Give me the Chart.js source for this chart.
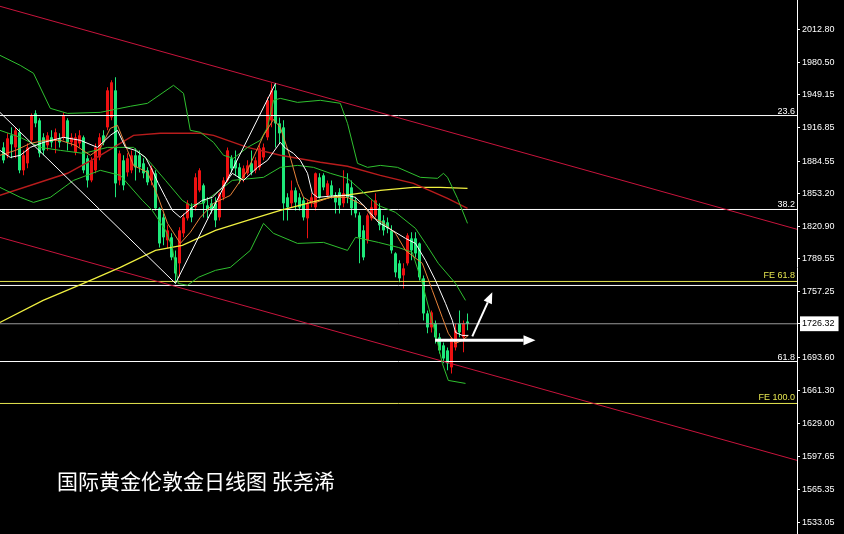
<!DOCTYPE html>
<html>
<head>
<meta charset="utf-8">
<script src="https://cdn.jsdelivr.net/npm/chart.js@4.4.0/dist/chart.umd.min.js"></script>
<style>
  html, body { margin: 0; padding: 0; background: #000; }
  #wrap { position: relative; width: 844px; height: 534px; }
  #caption {
    position: absolute; left: 57px; top: 470px;
    color: #fff; font-size: 21px; line-height: 21px;
    font-family: "Noto Sans CJK SC", sans-serif; white-space: nowrap;
  }
</style>
</head>
<body>
<div id="wrap">
  <canvas id="chart" width="844" height="534"></canvas>
  <div id="caption">国际黄金伦敦金日线图 张尧浠</div>
</div>
<script>
// ---------------- DATOS ----------------
const priceTicks = [2012.80, 1980.50, 1949.15, 1916.85, 1884.55, 1853.20, 1820.90, 1789.55,
  1757.25, 1726.32, 1693.60, 1661.30, 1629.00, 1597.65, 1565.35, 1533.05];
const lastPrice = 1726.32;

// velas diarias: [open, high, low, close]
const candles = [
  [1897.9, 1902.8, 1882.4, 1885.3], [1890.2, 1911.6, 1887.3, 1906.7], [1909.6, 1917.4, 1887.3, 1900.9],
  [1897.9, 1917.4, 1887.3, 1914.5], [1912.6, 1916.4, 1872.7, 1875.6], [1875.6, 1895.0, 1870.7, 1890.2],
  [1882.4, 1901.8, 1877.5, 1897.9], [1904.8, 1931.0, 1901.8, 1929.1], [1931.0, 1934.0, 1917.4, 1921.3],
  [1924.2, 1926.2, 1888.2, 1892.1], [1907.7, 1911.6, 1890.2, 1895.0], [1899.9, 1912.6, 1895.0, 1909.6],
  [1907.7, 1914.5, 1897.9, 1902.8], [1904.8, 1916.4, 1892.1, 1912.6], [1906.7, 1911.6, 1897.9, 1902.8],
  [1907.7, 1932.0, 1904.8, 1929.1], [1924.2, 1926.2, 1895.0, 1902.8], [1902.8, 1911.6, 1898.9, 1907.7],
  [1893.1, 1911.6, 1890.2, 1907.7], [1901.8, 1914.5, 1897.9, 1909.6], [1907.7, 1909.6, 1872.7, 1875.6],
  [1887.3, 1890.2, 1859.0, 1865.8], [1865.8, 1888.2, 1863.9, 1885.3], [1875.6, 1901.8, 1872.7, 1897.9],
  [1888.2, 1911.6, 1885.3, 1907.7], [1909.6, 1914.5, 1899.9, 1902.8], [1917.4, 1956.3, 1914.5, 1953.4],
  [1927.1, 1963.2, 1924.2, 1961.2], [1953.4, 1966.1, 1849.3, 1862.9], [1865.8, 1895.0, 1861.0, 1892.1],
  [1885.3, 1890.2, 1856.1, 1861.0], [1873.6, 1892.1, 1869.7, 1887.3], [1875.6, 1895.0, 1872.7, 1890.2],
  [1890.2, 1897.0, 1865.8, 1878.5], [1890.2, 1895.0, 1873.6, 1878.5], [1882.4, 1887.3, 1867.8, 1872.7],
  [1875.6, 1878.5, 1861.0, 1863.9], [1865.8, 1880.4, 1861.0, 1877.5], [1872.7, 1875.6, 1836.6, 1838.6],
  [1838.6, 1839.6, 1800.6, 1804.5], [1829.8, 1833.7, 1802.6, 1810.4], [1807.5, 1822.1, 1799.7, 1817.2],
  [1810.4, 1814.3, 1788.0, 1790.9], [1790.9, 1797.7, 1765.6, 1775.3], [1785.1, 1820.1, 1771.5, 1817.2],
  [1814.3, 1833.7, 1810.4, 1829.8], [1828.9, 1846.4, 1826.9, 1843.5], [1839.6, 1843.5, 1825.0, 1829.8],
  [1839.6, 1872.7, 1836.6, 1868.8], [1856.1, 1877.5, 1854.2, 1875.6], [1861.0, 1862.9, 1829.8, 1843.5],
  [1841.5, 1849.3, 1828.9, 1836.6], [1843.5, 1848.3, 1833.7, 1836.6], [1843.5, 1849.3, 1820.1, 1826.9],
  [1829.8, 1854.2, 1826.9, 1853.2], [1849.3, 1868.8, 1846.4, 1865.8], [1865.8, 1897.9, 1863.9, 1895.0],
  [1887.3, 1890.2, 1873.6, 1877.5], [1885.3, 1895.0, 1870.7, 1877.5], [1878.5, 1882.4, 1862.9, 1867.8],
  [1867.8, 1880.4, 1863.9, 1877.5], [1872.7, 1885.3, 1870.7, 1880.4], [1882.4, 1895.0, 1870.7, 1873.6],
  [1875.6, 1888.2, 1872.7, 1885.3], [1878.5, 1899.9, 1875.6, 1897.0], [1888.2, 1901.8, 1885.3, 1897.9],
  [1907.7, 1946.6, 1904.8, 1943.7], [1924.2, 1960.2, 1917.4, 1953.4], [1953.4, 1960.2, 1897.9, 1921.3],
  [1921.3, 1927.1, 1901.8, 1911.6], [1917.4, 1924.2, 1826.9, 1843.5], [1849.3, 1853.2, 1826.9, 1839.6],
  [1843.5, 1865.8, 1839.6, 1856.1], [1856.1, 1859.0, 1836.6, 1844.4], [1849.3, 1853.2, 1836.6, 1839.6],
  [1846.4, 1849.3, 1826.9, 1829.8], [1828.9, 1846.4, 1809.4, 1843.5], [1843.5, 1853.2, 1839.6, 1849.3],
  [1839.6, 1873.6, 1836.6, 1872.7], [1868.8, 1872.7, 1848.3, 1849.3], [1870.7, 1872.7, 1856.1, 1859.0],
  [1851.2, 1865.8, 1849.3, 1862.9], [1861.0, 1865.8, 1848.3, 1851.2], [1851.2, 1854.2, 1833.7, 1844.4],
  [1854.2, 1858.1, 1833.7, 1841.5], [1843.5, 1875.6, 1839.6, 1853.2], [1862.9, 1872.7, 1843.5, 1849.3],
  [1859.0, 1865.8, 1831.8, 1838.6], [1846.4, 1849.3, 1829.8, 1833.7], [1831.8, 1834.7, 1785.1, 1810.4],
  [1817.2, 1822.1, 1788.0, 1790.9], [1807.5, 1833.7, 1804.5, 1831.8], [1828.9, 1846.4, 1826.9, 1839.6],
  [1831.8, 1853.2, 1829.8, 1846.4], [1838.6, 1843.5, 1817.2, 1822.1], [1826.9, 1831.8, 1812.3, 1817.2],
  [1825.0, 1829.8, 1814.3, 1819.1], [1817.2, 1822.1, 1794.8, 1797.7], [1794.8, 1795.8, 1771.5, 1776.3],
  [1785.1, 1788.0, 1766.6, 1770.5], [1773.4, 1785.1, 1760.7, 1780.2], [1785.1, 1814.3, 1783.1, 1812.3],
  [1809.4, 1815.3, 1788.0, 1797.7], [1809.4, 1815.3, 1790.9, 1794.8], [1804.5, 1805.5, 1768.5, 1771.5],
  [1770.5, 1773.4, 1729.6, 1736.4], [1736.4, 1739.3, 1717.0, 1722.8], [1722.8, 1739.3, 1717.9, 1737.4],
  [1726.7, 1729.6, 1707.2, 1713.1], [1713.1, 1717.0, 1697.5, 1700.4], [1705.3, 1708.2, 1687.8, 1692.6],
  [1700.4, 1703.3, 1681.0, 1687.8], [1683.9, 1713.1, 1678.0, 1712.1], [1703.3, 1726.7, 1700.4, 1719.9],
  [1726.7, 1739.3, 1713.1, 1717.9], [1713.1, 1729.6, 1698.5, 1726.7], [1728.5, 1736.4, 1719.9, 1726.3]
];

// bandas de Bollinger y medias: [indice de vela, precio]
const bandUpper = [[-0.9, 1987.5], [4.2, 1977.7], [7.5, 1970.0], [11.7, 1935.9], [16.0, 1931.0], [24.2, 1932.0],
  [31.7, 1937.9], [36.0, 1940.8], [42.5, 1958.3], [45.0, 1950.5], [46.7, 1914.5], [49.2, 1912.6],
  [52.5, 1902.8], [55.0, 1890.2], [57.5, 1887.3], [61.0, 1897.9], [64.2, 1904.8], [66.0, 1917.4],
  [67.5, 1943.7], [69.2, 1945.6], [73.5, 1941.7], [79.2, 1943.7], [84.2, 1940.8], [86.0, 1921.3],
  [88.5, 1882.4], [91.0, 1878.5], [94.2, 1880.4], [98.5, 1878.5], [104.2, 1868.8], [108.5, 1867.8],
  [110.0, 1872.7], [111.0, 1868.8], [113.5, 1848.3], [116.0, 1824.0]];
const bandMid = [[-0.9, 1914.5], [4.2, 1907.7], [9.2, 1897.9], [14.2, 1895.0], [20.0, 1892.1], [26.0, 1897.9],
  [32.5, 1897.9], [36.2, 1885.3], [40.5, 1865.8], [44.7, 1846.4], [46.7, 1841.5], [49.7, 1843.5],
  [53.0, 1853.2], [57.2, 1865.8], [65.0, 1868.8], [69.2, 1878.5], [73.5, 1880.4], [77.5, 1878.5],
  [81.7, 1872.7], [86.0, 1867.8], [93.7, 1841.5], [98.0, 1834.7], [103.0, 1819.1], [105.5, 1804.5],
  [108.7, 1785.1], [113.0, 1765.6], [115.5, 1749.1]];
const bandLower = [[-0.9, 1859.0], [4.2, 1849.3], [7.5, 1844.4], [11.7, 1849.3], [17.5, 1865.8], [24.2, 1875.6],
  [29.2, 1870.7], [34.7, 1846.4], [37.2, 1836.6], [40.5, 1817.2], [42.2, 1800.6], [43.7, 1765.6],
  [46.0, 1763.7], [48.7, 1771.5], [53.0, 1778.3], [56.7, 1781.2], [61.7, 1797.7], [65.0, 1824.0],
  [67.5, 1814.3], [73.5, 1804.5], [80.0, 1805.5], [86.0, 1797.7], [88.0, 1810.4], [93.7, 1805.5],
  [98.7, 1800.6], [102.2, 1795.8], [104.7, 1765.6], [108.0, 1717.0], [109.7, 1687.8], [111.2, 1671.2],
  [115.5, 1668.3]];
const maRed = [[-0.9, 1851.2], [16.0, 1872.7], [24.2, 1890.2], [32.5, 1909.6], [39.2, 1911.6], [49.2, 1911.6],
  [52.5, 1909.6], [61.0, 1897.9], [69.2, 1890.2], [79.2, 1883.4], [86.0, 1879.5], [94.2, 1870.7],
  [102.5, 1862.9], [111.0, 1848.3], [116.0, 1838.6]];
const maYellow = [[-0.9, 1727.7], [9.9, 1749.1], [20.0, 1765.6], [29.2, 1781.2], [38.0, 1797.7], [44.7, 1802.6],
  [53.0, 1817.2], [61.0, 1826.9], [69.2, 1836.6], [81.7, 1849.3], [94.2, 1856.1], [102.5, 1859.0],
  [109.2, 1859.0], [116.0, 1858.1]];
const maWhite = [[-0.9, 1895.0], [1.7, 1888.2], [4.2, 1890.2], [6.7, 1897.9], [10.0, 1902.8], [15.0, 1907.7],
  [19.2, 1904.8], [23.5, 1897.9], [26.7, 1909.6], [28.5, 1914.5], [30.5, 1897.9], [33.0, 1895.0],
  [35.5, 1888.2], [37.2, 1875.6], [38.7, 1862.9], [40.5, 1849.3], [42.2, 1836.6], [44.2, 1829.8],
  [47.2, 1839.6], [49.7, 1846.4], [52.2, 1849.3], [54.7, 1859.0], [57.2, 1872.7], [60.0, 1865.8],
  [63.5, 1878.5], [66.0, 1885.3], [69.2, 1902.8], [70.5, 1897.0], [72.5, 1892.1], [74.2, 1885.3],
  [76.0, 1872.7], [77.2, 1853.2], [78.5, 1849.3], [83.5, 1851.2], [86.0, 1851.2], [88.0, 1849.3],
  [90.5, 1839.6], [93.7, 1825.0], [97.2, 1817.2], [100.5, 1809.4], [103.0, 1804.5], [105.5, 1788.0],
  [108.0, 1768.5], [110.5, 1746.2], [112.2, 1729.6], [113.0, 1717.9], [114.7, 1715.0], [116.2, 1715.0]];
const maOrange = [[-0.9, 1890.2], [3.0, 1895.0], [6.7, 1901.8], [10.5, 1904.8], [14.2, 1904.8], [18.0, 1899.9],
  [21.7, 1890.2], [24.2, 1897.0], [26.7, 1916.4], [28.5, 1919.4], [31.0, 1895.0], [32.5, 1880.4],
  [36.0, 1873.6], [38.5, 1851.2], [41.0, 1824.0], [44.2, 1804.5], [46.7, 1815.3], [49.2, 1829.8],
  [52.5, 1843.5], [56.7, 1851.2], [61.0, 1875.6], [65.0, 1909.6], [67.5, 1925.0], [69.2, 1917.4],
  [71.7, 1888.2], [73.5, 1862.9], [75.0, 1849.3], [77.5, 1843.5], [81.7, 1849.3], [86.0, 1849.3],
  [90.0, 1841.5], [92.2, 1829.8], [94.7, 1825.0], [98.0, 1814.3], [100.5, 1797.7], [104.7, 1785.1],
  [107.2, 1758.8], [109.7, 1732.5], [111.2, 1717.0], [113.0, 1707.2], [114.7, 1710.2], [116.2, 1715.0]];

// zigzag, canal y niveles
const zigzag = [[-0.9, 1932.0], [43, 1765.6], [68, 1960.2]];
const channelUpper = [[-0.9, 2035.2], [198.4, 1818.2]];
const channelLower = [[-0.9, 1810.4], [198.4, 1593.4]];
const fibValues = [1928.9, 1837.5, 1763.6, 1689.6];
const fibLabels = ["23.6", "38.2", "", "61.8"];
const feValues = [1767.5, 1648.8];
const feLabels = ["FE 61.8", "FE 100.0"];
const arrowFlat = [[107.9, 1710.2], [133.0, 1710.2]];
const arrowUp = [[117.2, 1714.0], [122.2, 1756.9]];

// ---------------- CONFIG ----------------
const X_MIN = -0.875;
const X_MAX = 198.375;
const Y_MIN = 1521.8;
const Y_MAX = 2041.3;

const UP = "#ee1111";
const DOWN = "#1ee87a";

function colorVela(c) {
    return c[3] >= c[0] ? UP : DOWN;
}

function lineaDs(puntos, color, ancho, orden) {
    return {
        type: "line",
        data: puntos.map((p) => ({ x: p[0], y: p[1] })),
        borderColor: color,
        borderWidth: ancho,
        pointRadius: 0,
        tension: 0,
        fill: false,
        order: orden,
    };
}

function nivelDs(valor, color, orden) {
    return lineaDs([[X_MIN, valor], [X_MAX, valor]], color, 1, orden);
}

const datasets = [
    // lineas encima de las velas
    lineaDs(zigzag, "#ffffff", 1, 1),
    lineaDs(maWhite, "#ffffff", 1, 2),
    lineaDs(maOrange, "#e8843a", 1, 2),
    lineaDs(bandUpper, "#2fc02f", 1, 3),
    lineaDs(bandMid, "#2fc02f", 1, 3),
    lineaDs(bandLower, "#2fc02f", 1, 3),
    lineaDs(maRed, "#b81c1c", 1.5, 3),
    lineaDs(maYellow, "#f0f040", 1.2, 3),
    lineaDs(channelUpper, "#c8143c", 1, 4),
    lineaDs(channelLower, "#c8143c", 1, 4),
    ...fibValues.map((v) => nivelDs(v, "#ffffff", 4)),
    ...feValues.map((v) => nivelDs(v, "#e6e650", 4)),
    nivelDs(lastPrice, "#9a9a9a", 4),
    // cuerpos y mechas
    {
        type: "bar",
        data: candles.map((c, i) => ({ x: i, y: [c[0], c[3]] })),
        backgroundColor: candles.map(colorVela),
        barThickness: 3,
        minBarLength: 1,
        grouped: false,
        inflateAmount: 0,
        borderWidth: 0,
        order: 9,
    },
    {
        type: "bar",
        data: candles.map((c, i) => ({ x: i, y: [c[2], c[1]] })),
        backgroundColor: candles.map(colorVela),
        barThickness: 1,
        grouped: false,
        inflateAmount: 0,
        borderWidth: 0,
        order: 10,
    },
];

function flecha(ctx, x0, y0, x1, y1, ancho, largo, medio) {
    const ang = Math.atan2(y1 - y0, x1 - x0);
    const bx = x1 - Math.cos(ang) * largo;
    const by = y1 - Math.sin(ang) * largo;
    ctx.lineWidth = ancho;
    ctx.beginPath();
    ctx.moveTo(x0, y0);
    ctx.lineTo(bx, by);
    ctx.stroke();
    ctx.beginPath();
    ctx.moveTo(x1, y1);
    ctx.lineTo(bx + Math.sin(ang) * medio, by - Math.cos(ang) * medio);
    ctx.lineTo(bx - Math.sin(ang) * medio, by + Math.cos(ang) * medio);
    ctx.closePath();
    ctx.fill();
}

const extrasPlugin = {
    id: "extras",
    afterDatasetsDraw(chart) {
        const { ctx, scales: { x, y } } = chart;
        ctx.save();
        ctx.font = '9px "Liberation Sans", Arial, sans-serif';
        ctx.textAlign = "right";
        ctx.textBaseline = "alphabetic";
        fibValues.forEach((v, k) => {
            if (!fibLabels[k]) return;
            ctx.fillStyle = "#ffffff";
            ctx.fillText(fibLabels[k], x.right - 2, Math.round(y.getPixelForValue(v)) - 2);
        });
        feValues.forEach((v, k) => {
            ctx.fillStyle = "#e6e650";
            ctx.fillText(feLabels[k], x.right - 2, Math.round(y.getPixelForValue(v)) - 3);
        });

        // flechas
        ctx.strokeStyle = "#ffffff";
        ctx.fillStyle = "#ffffff";
        flecha(ctx,
            x.getPixelForValue(arrowFlat[0][0]), y.getPixelForValue(arrowFlat[0][1]),
            x.getPixelForValue(arrowFlat[1][0]), y.getPixelForValue(arrowFlat[1][1]),
            3, 12, 5);
        flecha(ctx,
            x.getPixelForValue(arrowUp[0][0]), y.getPixelForValue(arrowUp[0][1]),
            x.getPixelForValue(arrowUp[1][0]), y.getPixelForValue(arrowUp[1][1]),
            2, 11, 4.5);
        ctx.restore();
    },
};

new Chart(document.getElementById("chart"), {
    type: "bar",
    data: { datasets },
    options: {
        responsive: false,
        animation: false,
        devicePixelRatio: 1,
        layout: { padding: 0 },
        plugins: { legend: { display: false }, tooltip: { enabled: false } },
        scales: {
            x: {
                type: "linear",
                min: X_MIN,
                max: X_MAX,
                offset: false,
                display: false,
            },
            y: {
                type: "linear",
                position: "right",
                min: Y_MIN,
                max: Y_MAX,
                beginAtZero: false,
                afterBuildTicks: (scale) => {
                    scale.ticks = priceTicks.map((v) => ({ value: v }));
                },
                afterFit: (scale) => {
                    scale.width = 47;
                    scale.paddingTop = 0;
                    scale.paddingBottom = 0;
                },
                grid: {
                    display: true,
                    drawOnChartArea: false,
                    drawTicks: true,
                    tickLength: 3,
                    color: "#ffffff",
                },
                border: { display: true, color: "#ffffff", width: 1 },
                ticks: {
                    autoSkip: false,
                    padding: 2,
                    font: { family: '"Liberation Sans", Arial, sans-serif', size: 9 },
                    color: (c) => (c.tick && c.tick.value === lastPrice ? "#000000" : "#ffffff"),
                    showLabelBackdrop: (c) => !!(c.tick && c.tick.value === lastPrice),
                    backdropColor: "#ffffff",
                    backdropPadding: { top: 2, bottom: 2, left: 2, right: 4 },
                    callback: (v) => Number(v).toFixed(2),
                },
            },
        },
    },
    plugins: [extrasPlugin],
});
</script>
</body>
</html>
